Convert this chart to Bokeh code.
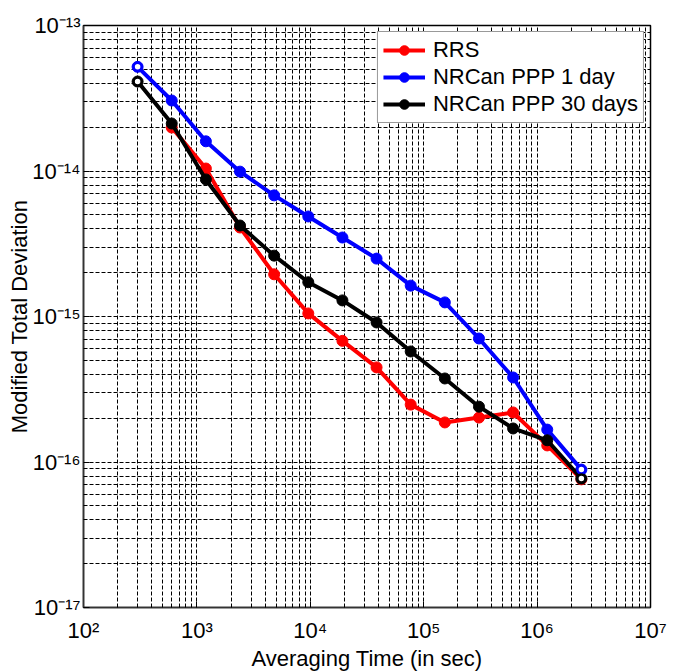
from bokeh.plotting import figure
from bokeh.models import FixedTicker, CustomJSTickFormatter
from bokeh.embed import file_html
from bokeh.resources import INLINE

# ---- data ----
tau_all = [300, 600, 1200, 2400, 4800, 9600, 19200, 38400, 76800, 153600,
           307200, 614400, 1228800, 2457600]
tau_rrs = [600, 1200, 2400, 4800, 9600, 19200, 38400, 76800, 153600,
           307200, 614400, 1228800, 2457600]
rrs = [1.99e-14, 1.04e-14, 4.09e-15, 1.95e-15, 1.05e-15, 6.8e-16, 4.47e-16,
       2.48e-16, 1.87e-16, 2.02e-16, 2.19e-16, 1.30e-16, 7.6e-17]
ppp_1day = [5.2e-14, 3.05e-14, 1.6e-14, 9.9e-15, 6.8e-15, 4.87e-15, 3.49e-15,
            2.5e-15, 1.63e-15, 1.25e-15, 7.06e-16, 3.81e-16, 1.67e-16, 8.87e-17]
ppp_30days = [4.12e-14, 2.12e-14, 8.75e-15, 4.22e-15, 2.62e-15, 1.72e-15,
              1.29e-15, 9.1e-16, 5.75e-16, 3.75e-16, 2.4e-16, 1.7e-16,
              1.41e-16, 7.7e-17]

x_ticks = [100, 1000, 10000, 100000, 1000000, 10000000]
y_ticks = [1e-17, 1e-16, 1e-15, 1e-14, 1e-13]
minor_mult = [2, 3, 4, 5, 6, 7, 8, 9]

labels = ["RRS", "NRCan PPP 1 day", "NRCan PPP 30 days"]
x_label = "Averaging Time (in sec)"
y_label = "Modified Total Deviation"

FONT = "Liberation Sans"

p = figure(x_axis_type="log", y_axis_type="log",
           x_range=(1e2, 1e7), y_range=(1e-17, 1e-13),
           frame_width=567, frame_height=582,
           min_border_left=83, min_border_right=30,
           min_border_top=25, min_border_bottom=65,
           output_backend="svg", toolbar_location=None)
p.background_fill_color = "white"
p.border_fill_color = "white"

x_minor = [m * t for t in x_ticks[:-1] for m in minor_mult]
y_minor = [m * t for t in y_ticks[:-1] for m in minor_mult]
p.xaxis.ticker = FixedTicker(ticks=x_ticks, minor_ticks=x_minor)
p.yaxis.ticker = FixedTicker(ticks=y_ticks, minor_ticks=y_minor)

fmt_code = """
const sup = {'-':'\u207b','0':'\u2070','1':'\u00b9','2':'\u00b2','3':'\u00b3',
             '4':'\u2074','5':'\u2075','6':'\u2076','7':'\u2077','8':'\u2078','9':'\u2079'};
const e = Math.round(Math.log10(tick));
return '10' + String(e).split('').map(c => sup[c]).join('');
"""
p.xaxis.formatter = CustomJSTickFormatter(code=fmt_code)
p.yaxis.formatter = CustomJSTickFormatter(code=fmt_code)

for ax in (p.xaxis, p.yaxis):
    ax.major_label_text_font = FONT
    ax.major_label_text_font_size = "22px"
    ax.major_label_text_color = "black"
    ax.axis_label_text_font = FONT
    ax.axis_label_text_font_size = "22px"
    ax.axis_label_text_font_style = "normal"
    ax.axis_label_text_color = "black"
    ax.axis_line_color = "#333333"
    ax.axis_line_width = 1.5
    ax.major_tick_in = 6
    ax.major_tick_out = 0
    ax.minor_tick_in = 3
    ax.minor_tick_out = 0
    ax.major_tick_line_color = "black"
    ax.minor_tick_line_color = "black"

p.xaxis.axis_label = x_label
p.yaxis.axis_label = y_label
p.xaxis.major_label_standoff = 10
p.yaxis.major_label_standoff = 3
p.xaxis.axis_label_standoff = 0
p.yaxis.axis_label_standoff = -3

for g in (p.xgrid, p.ygrid):
    g.grid_line_color = "black"
    g.grid_line_dash = "4 2"
    g.grid_line_width = 1
    g.minor_grid_line_color = "black"
    g.minor_grid_line_dash = "4 2"
    g.minor_grid_line_width = 1

p.outline_line_color = "black"
p.outline_line_width = 1.5

series = [(tau_rrs, rrs, "#ff0000", labels[0]),
          (tau_all, ppp_1day, "#0000ff", labels[1]),
          (tau_all, ppp_30days, "#000000", labels[2])]

for xs, ys, col, lab in series:
    p.line(xs, ys, color=col, line_width=4, legend_label=lab)
    p.scatter(xs, ys, size=11, color=col, legend_label=lab)

# open end markers for the PPP series
for xs, ys, col in [(tau_all, ppp_1day, "#0000ff"), (tau_all, ppp_30days, "#000000")]:
    p.scatter([xs[0], xs[-1]], [ys[0], ys[-1]], size=8, fill_color="white",
              line_color=col, line_width=2.5)

lg = p.legend[0]
lg.location = "top_right"
lg.margin = 6
lg.padding = 5
lg.spacing = 1
lg.glyph_width = 42
lg.glyph_height = 24
lg.label_height = 24
lg.label_standoff = 8
lg.label_text_font = FONT
lg.label_text_font_size = "22px"
lg.label_text_color = "black"
lg.border_line_color = "#333333"
lg.border_line_width = 1
lg.background_fill_color = "white"
lg.background_fill_alpha = 1.0

open("out.html", "w").write(file_html(p, INLINE))
